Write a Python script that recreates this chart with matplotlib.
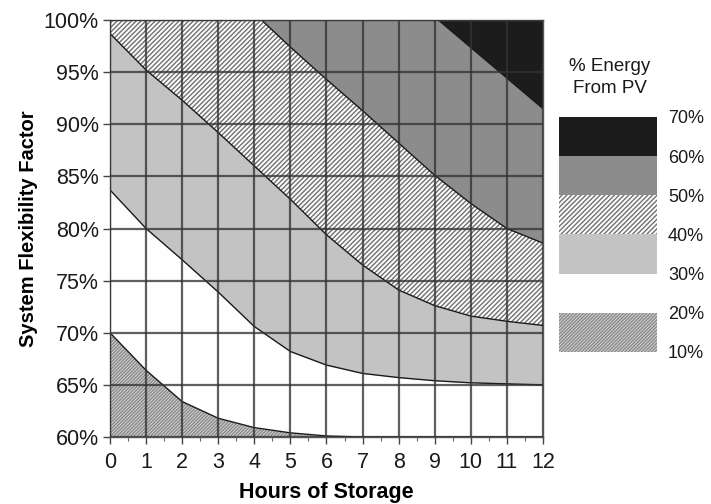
import numpy as np
import matplotlib
matplotlib.use('Agg')
import matplotlib.pyplot as plt

plt.rcParams['font.family'] = ['Liberation Sans', 'DejaVu Sans']
plt.rcParams['hatch.linewidth'] = 1.0

# boundaries between the % energy from PV bands
hours = [0, 1, 2, 3, 4, 5, 6, 7, 8, 9, 10, 11, 12]
b20 = [70.0, 66.4, 63.4, 61.8, 60.9, 60.4, 60.1, 60.0, 60.0, 60.0, 60.0, 60.0, 60.0]
b30 = [83.7, 80.0, 77.0, 73.9, 70.6, 68.2, 66.9, 66.1, 65.7, 65.4, 65.2, 65.1, 65.0]
b40 = [98.7, 95.2, 92.3, 89.2, 86.0, 82.8, 79.4, 76.5, 74.1, 72.6, 71.6, 71.1, 70.7]
b50_hours = [4.2, 5, 6, 7, 8, 9, 10, 11, 12]
b50 = [100.0, 97.4, 94.3, 91.3, 88.2, 85.1, 82.4, 80.0, 78.6]
b60_hours = [9.1, 12]
b60 = [100.0, 91.5]

legend_levels = [10, 20, 30, 40, 50, 60, 70]

# band styles: (facecolor, hatch, hatch colour)
band_10 = ('#d4d4d4', '/' * 10, '#8a8a8a')
band_20 = ('#fefefe', None, None)
band_30 = ('#c3c3c3', None, None)
band_40 = ('#fefefe', '/' * 7, '#707070')
band_50 = ('#8c8c8c', None, None)
band_60 = ('#1c1c1c', None, None)

fig = plt.figure(figsize=(7.11, 5.04), dpi=100)
ax = fig.add_axes([0.1547, 0.1329, 0.609, 0.8274])


def fill_above(x, y, style):
    face, hatch, hcol = style
    ax.fill_between(x, y, 100, facecolor=face, hatch=hatch,
                    edgecolor=hcol if hcol else face, linewidth=0)


# lowest band covers everything, the others are stacked on top of it
fill_above([0, 12], [60, 60], band_10)
fill_above(hours, b20, band_20)
fill_above(hours, b30, band_30)
fill_above(hours, b40, band_40)
fill_above(b50_hours, b50, band_50)
fill_above(b60_hours, b60, band_60)

for x, y in [(hours, b20), (hours, b30), (hours, b40), (b50_hours, b50), (b60_hours, b60)]:
    ax.plot(x, y, color='#1a1a1a', lw=1.0)

ax.set_xlim(0, 12)
ax.set_ylim(60, 100)
ax.set_xticks(range(0, 13))
ax.set_xticks(np.arange(0.5, 12, 1), minor=True)
ax.set_yticks(range(60, 101, 5))
ax.set_yticklabels([f'{v}%' for v in range(60, 101, 5)])
ax.tick_params(axis='both', which='major', direction='out', length=5,
               width=1, color='#444444', labelsize=15.5, labelcolor='#1a1a1a')
ax.tick_params(axis='x', which='minor', direction='out', length=3, width=0.8, color='#666666')
ax.tick_params(axis='y', pad=3)
ax.tick_params(axis='x', pad=6)
ax.set_axisbelow(False)
ax.grid(True, which='major', color='#333333', alpha=0.78, lw=1.6)
for s in ax.spines.values():
    s.set_color('#555555')
    s.set_linewidth(1.0)

ax.set_xlabel('Hours of Storage', fontsize=15.5, fontweight='bold', labelpad=6)
ax.set_ylabel('System Flexibility Factor', fontsize=14.5, fontweight='bold', labelpad=4)

# legend drawn as a small stacked bar with its own axis
lax = fig.add_axes([0.786, 0.3016, 0.138, 0.4663])
lax.set_xlim(0, 1)
lax.set_ylim(10, 70)
styles = [band_10, band_20, band_30, band_40, band_50, band_60]
for lo, hi, (face, hatch, hcol) in zip(legend_levels[:-1], legend_levels[1:], styles):
    lax.fill_between([0, 1], lo, hi, facecolor=face, hatch=hatch,
                     edgecolor=hcol if hcol else face, linewidth=0)
lax.set_xticks([])
lax.yaxis.tick_right()
lax.set_yticks(legend_levels)
lax.set_yticklabels([f'{v}%' for v in legend_levels])
lax.tick_params(axis='y', length=0, pad=8, labelsize=13, labelcolor='#1a1a1a')
for s in lax.spines.values():
    s.set_visible(False)

fig.text(610 / 711, 1 - 77.5 / 504, '% Energy\nFrom PV', ha='center', va='center',
         fontsize=13.5, color='#1a1a1a', linespacing=1.35)

fig.savefig('out.png', dpi=100)
